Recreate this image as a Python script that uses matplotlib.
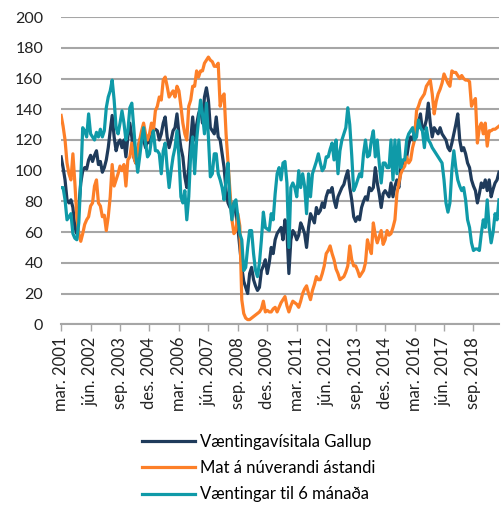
import matplotlib
matplotlib.use("Agg")
from matplotlib import pyplot as plt
import pandas as pd

# monthly data, mar. 2001 - okt. 2019
months = pd.period_range("2001-03", periods=224, freq="M")

gallup = [109, 102, 94, 81, 79, 81, 76, 63, 59, 76, 92, 100, 102, 101, 107, 110, 106, 110, 113, 104,
          106, 99, 102, 107, 115, 126, 136, 122, 113, 118, 120, 115, 120, 109, 122, 131, 122, 109, 105, 113,
          120, 122, 120, 115, 120, 118, 124, 126, 127, 126, 120, 124, 131, 135, 122, 115, 120, 126, 128, 137,
          124, 115, 109, 96, 89, 102, 120, 135, 120, 130, 137, 141, 131, 148, 154, 146, 128, 126, 124, 135,
          122, 120, 111, 102, 87, 79, 76, 76, 79, 72, 63, 50, 37, 28, 24, 20, 33, 37, 29, 25,
          22, 24, 35, 38, 42, 33, 40, 50, 46, 55, 59, 61, 63, 55, 68, 60, 33, 55, 61, 59,
          55, 58, 66, 63, 59, 50, 63, 72, 69, 66, 76, 72, 74, 79, 76, 83, 87, 86, 89, 81,
          76, 83, 86, 89, 91, 96, 100, 89, 81, 70, 67, 70, 68, 76, 80, 83, 81, 89, 87, 89,
          102, 92, 85, 76, 85, 87, 85, 83, 92, 83, 90, 94, 89, 102, 105, 107, 109, 117, 122, 120,
          126, 133, 131, 137, 126, 128, 133, 144, 131, 122, 128, 126, 124, 128, 124, 122, 120, 115, 113, 118,
          124, 130, 137, 120, 113, 115, 111, 105, 102, 94, 90, 87, 79, 85, 92, 89, 94, 87, 94, 83,
          88, 92, 94, 99]

mat = [136, 129, 120, 105, 98, 94, 111, 92, 70, 59, 54, 59, 65, 68, 70, 77, 79, 90, 94, 79,
       77, 70, 71, 61, 70, 83, 104, 90, 94, 98, 103, 100, 104, 90, 107, 109, 118, 109, 105, 113,
       120, 126, 131, 124, 120, 124, 131, 126, 139, 142, 148, 146, 159, 161, 155, 148, 150, 152, 148, 155,
       152, 142, 131, 124, 120, 142, 146, 155, 155, 165, 161, 165, 165, 170, 172, 174, 172, 171, 168, 168,
       170, 142, 148, 150, 124, 105, 85, 68, 59, 61, 72, 64, 16, 7, 4, 3, 3, 4, 5, 6,
       7, 8, 10, 15, 8, 9, 8, 8, 10, 11, 8, 11, 14, 16, 18, 12, 8, 12, 15, 14,
       13, 11, 15, 20, 23, 25, 20, 16, 22, 26, 31, 29, 29, 33, 38, 46, 48, 51, 46, 42,
       36, 33, 29, 30, 31, 34, 38, 51, 42, 38, 38, 35, 31, 33, 35, 40, 55, 50, 46, 66,
       58, 53, 57, 61, 52, 55, 61, 58, 59, 63, 68, 85, 92, 98, 101, 103, 109, 105, 107, 115,
       120, 139, 142, 146, 148, 150, 155, 157, 159, 150, 137, 145, 150, 153, 157, 163, 160, 157, 155, 165,
       164, 164, 162, 160, 162, 160, 159, 159, 158, 142, 145, 147, 118, 128, 131, 124, 131, 116, 126, 126,
       127, 127, 128, 129]

vaent6 = [89, 89, 81, 68, 70, 72, 59, 56, 55, 66, 94, 128, 126, 122, 137, 124, 122, 120, 125, 122,
          127, 122, 126, 141, 148, 152, 159, 146, 128, 124, 131, 139, 131, 120, 126, 141, 144, 128, 111, 99,
          109, 120, 128, 118, 109, 111, 120, 126, 113, 113, 111, 98, 113, 118, 102, 89, 100, 109, 115, 126,
          109, 83, 79, 87, 68, 83, 111, 122, 98, 120, 133, 146, 137, 124, 144, 122, 96, 98, 111, 111,
          98, 94, 89, 81, 94, 105, 79, 68, 79, 81, 70, 59, 55, 35, 37, 50, 61, 61, 46, 35,
          31, 40, 55, 73, 63, 62, 61, 72, 68, 85, 98, 102, 94, 105, 106, 92, 50, 89, 92, 89,
          83, 100, 89, 98, 90, 72, 98, 83, 98, 102, 106, 111, 105, 100, 102, 109, 109, 114, 118, 107,
          120, 98, 113, 120, 124, 128, 141, 130, 110, 87, 90, 94, 98, 96, 111, 120, 109, 110, 120, 126,
          109, 120, 105, 92, 105, 105, 102, 102, 120, 94, 120, 98, 120, 102, 107, 107, 120, 124, 126, 128,
          120, 122, 133, 128, 126, 115, 128, 120, 118, 115, 113, 111, 109, 107, 105, 94, 79, 73, 79, 100,
          113, 102, 94, 90, 87, 89, 81, 68, 63, 53, 48, 49, 49, 48, 59, 68, 63, 81, 63, 53,
          60, 72, 68, 81]

mnames = {3: "mar.", 6: "jún.", 9: "sep.", 12: "des."}
tick_pos = list(range(0, len(months), 15))
tick_lab = [mnames[months[i].month] + " " + str(months[i].year) for i in tick_pos]

plt.rcParams["font.family"] = ["Lato", "DejaVu Sans"]

fig = plt.figure(figsize=(5.01, 5.05), dpi=100)
ax = fig.add_axes([0.122, 0.358, 0.874, 0.608])

x = range(len(months))
ax.plot(x, gallup, color="#1f3b5b", lw=2.3, label="Væntingavísitala Gallup", zorder=3)
ax.plot(x, mat, color="#fd7f28", lw=2.3, label="Mat á núverandi ástandi", zorder=3)
ax.plot(x, vaent6, color="#0f9aa8", lw=2.3, label="Væntingar til 6 mánaða", zorder=3)

ax.set_ylim(0, 200)
ax.set_yticks(range(0, 201, 20))
ax.set_xlim(0, len(months) - 1)
ax.set_xticks(tick_pos)
ax.set_xticklabels(tick_lab, rotation=90, fontsize=12, color="#222222")
ax.tick_params(axis="y", length=0, labelsize=11.5, labelcolor="#222222", pad=13)
ax.tick_params(axis="x", length=5, width=1.0, color="#a6a6a6", pad=4)
ax.grid(axis="y", color="#a6a6a6", lw=1.5)
ax.set_axisbelow(True)
for s in ["top", "right", "left"]:
    ax.spines[s].set_visible(False)
ax.spines["bottom"].set_color("#a6a6a6")
ax.spines["bottom"].set_linewidth(1.5)

fig.legend(loc="upper left", bbox_to_anchor=(0.283, 0.141), frameon=False,
           fontsize=12, handlelength=3.2, handletextpad=0.3, labelspacing=0.62,
           borderaxespad=0, borderpad=0)

fig.savefig("out.png", dpi=100)
